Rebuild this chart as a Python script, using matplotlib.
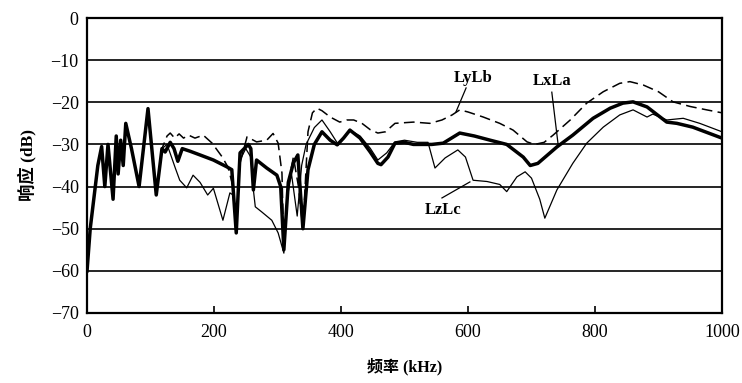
import matplotlib
matplotlib.use('Agg')
import matplotlib.pyplot as plt

# 字体：数字用衬线体，中文用 Noto Sans CJK
plt.rcParams['font.family'] = ['Liberation Serif', 'Noto Sans CJK SC']

# 低频段三条曲线重合的部分 (kHz, dB)
f_common = [0, 5, 17, 23, 28, 33, 41, 46, 49, 53, 57, 61, 70, 82, 96, 109, 118]
db_common = [-60, -50, -35, -30.5, -40, -30, -43, -28, -37, -29, -35, -25, -31, -40, -21.5, -42, -31]

# LxLa 粗实线
f_xa = [123, 131, 137, 143, 150, 162, 178, 199, 220, 228, 235, 241, 254, 258, 262, 267,
        283, 299, 305, 310, 317, 325, 332, 340, 348, 358, 370, 383, 394, 404, 414, 430,
        446, 458, 463, 474, 485, 500, 514, 543, 561, 587, 610, 635, 661, 687, 698, 710,
        740, 765, 797, 824, 844, 860, 882, 913, 929, 954, 1000]
db_xa = [-31.8, -29.5, -31, -34, -31, -31.6, -32.5, -33.7, -35.3, -36, -51, -32, -30, -31, -40.8, -33.7,
         -35.6, -37.3, -40, -55, -39, -34.4, -32.5, -50, -36, -30, -27, -29, -30.1, -28.5, -26.6, -28.5,
         -31.8, -34.5, -34.8, -33, -29.7, -29.5, -30, -30, -29.7, -27.3, -28, -29, -30, -33, -35, -34.5,
         -30.6, -27.8, -23.8, -21.4, -20.2, -19.9, -21.1, -24.7, -25, -25.9, -28.5]

# LyLb 虚线
f_yb = [126, 131, 138, 145, 152, 160, 170, 183, 197, 213, 222, 230, 235, 240, 252, 267,
        283, 293, 301, 307, 310, 316, 325, 333, 340, 348, 355, 362, 370, 383, 398, 409,
        420, 433, 446, 458, 470, 485, 514, 540, 559, 575, 587, 600, 624, 650, 671, 693,
        705, 720, 734, 761, 787, 813, 839, 855, 876, 900, 923, 950, 976, 1000]
db_yb = [-28, -27.3, -28.5, -27.5, -28.5, -27.8, -28.5, -27.8, -29.7, -33, -35.4, -40, -51, -35, -28.2, -29.4,
         -29, -27.4, -29.7, -36.8, -55, -40, -33, -40, -50, -27, -22.5, -21.4, -22, -23.5, -24.7, -24.2,
         -24.2, -25, -26.5, -27.3, -27, -25, -24.7, -25, -24.2, -23, -21.8, -22.3, -23.5, -25, -26.6, -29.4,
         -30, -29.5, -27.8, -24.2, -20.2, -17.5, -15.5, -15.1, -15.9, -17.5, -19.9, -21, -21.8, -22.5]

# LzLc 细线
f_zc = [126, 133, 139, 146, 157, 167, 178, 190, 199, 214, 225, 230, 235, 240, 250, 258,
        262, 265, 275, 291, 301, 310, 316, 322, 331, 338, 345, 358, 370, 383, 396, 414,
        430, 446, 458, 472, 485, 500, 520, 537, 548, 564, 584, 596, 608, 630, 650, 661,
        677, 690, 700, 713, 721, 740, 765, 787, 813, 839, 860, 882, 891, 913, 939, 965, 1000]
db_zc = [-30, -33, -35.6, -38.5, -40.3, -37.3, -39, -42, -40.4, -48, -41.5, -42, -51, -34, -31, -33,
         -40.8, -44.8, -46, -48, -51, -55.8, -42, -37, -47, -35, -30, -26, -24.2, -27, -30.1, -26.6,
         -28, -30.9, -33.7, -32, -29.4, -29, -29.5, -29.5, -35.6, -33.2, -31.3, -33, -38.5, -38.8, -39.5, -41.2,
         -37.7, -36.5, -38, -43, -47.5, -40.8, -34.5, -29.7, -25.9, -23, -21.8, -23.5, -22.8, -24.2, -23.8, -25, -27]

x_ticks = [0, 200, 400, 600, 800, 1000]
y_ticks = [0, -10, -20, -30, -40, -50, -60, -70]

fig = plt.figure(figsize=(7.42, 3.83), dpi=100)
ax = fig.add_axes([0.1173, 0.1828, 0.8557, 0.7702])

# 水平网格线
for y in y_ticks[1:-1]:
    ax.axhline(y, color='black', lw=1.2, zorder=1)

ax.plot(f_common + f_zc, db_common + db_zc, color='black', lw=0.9, zorder=2)
ax.plot(f_common + f_yb, db_common + db_yb, color='black', lw=1.1, ls=(0, (7, 3.5)), zorder=3)
ax.plot(f_common + f_xa, db_common + db_xa, color='black', lw=2.5, zorder=4)

# 曲线标注
ax.text(608, -14.2, 'LyLb', fontsize=12, fontweight='bold', ha='center', va='center')
ax.plot([597, 581], [-16.6, -22.3], color='black', lw=0.9)
ax.text(732, -15, 'LxLa', fontsize=12, fontweight='bold', ha='center', va='center')
ax.plot([732, 742], [-17.6, -30.1], color='black', lw=0.9)
ax.text(561, -45.6, 'LzLc', fontsize=12, fontweight='bold', ha='center', va='center')
ax.plot([559, 603], [-42.7, -38.9], color='black', lw=0.9)

ax.set_xlim(0, 1000)
ax.set_ylim(-70, 0)
ax.set_xticks(x_ticks)
ax.set_yticks(y_ticks)
ax.tick_params(axis='x', direction='in', length=5, width=1.2, labelsize=13, pad=8)
ax.tick_params(axis='y', length=0, labelsize=13, pad=6)
for s in ax.spines.values():
    s.set_linewidth(1.6)

ax.set_xlabel('频率 (kHz)', fontsize=11.5, fontweight='bold', labelpad=12)
ax.set_ylabel('响应 (dB)', fontsize=12.5, fontweight='bold', labelpad=10)

fig.savefig('out.png', dpi=100)
